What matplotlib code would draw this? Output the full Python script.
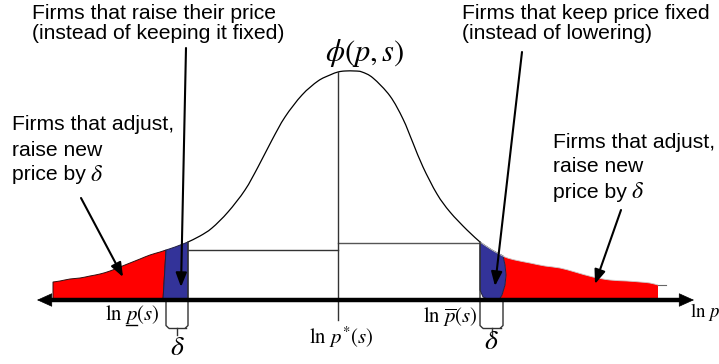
import numpy as np
import matplotlib.pyplot as plt
from matplotlib.path import Path
from matplotlib.patches import PathPatch

plt.rcParams['mathtext.fontset'] = 'stix'
plt.rcParams['font.family'] = ['Liberation Sans', 'DejaVu Sans']

# ---- data (positions along ln p, heights of phi) ----
lnp = [53, 60, 70, 80, 90, 100, 110, 120, 130, 140, 150, 160, 166, 175, 188, 200,
       212, 228, 245, 258, 272, 285, 302, 318, 330, 338, 345, 355, 362, 373, 390,
       403, 413, 423, 437, 450, 467, 480, 492, 505, 515, 530, 545, 560, 575, 593,
       610, 627, 640, 650, 658]
phi = [18, 19, 21, 22, 24, 26, 29, 33, 37, 41, 45, 48, 50, 53, 58, 64,
       72, 88, 110, 133, 160, 183, 205, 219, 225, 228, 229, 229, 228, 222, 204,
       181, 157, 133, 106, 88, 70, 58, 50, 43, 40, 37, 34, 32, 28, 23,
       20, 19, 18, 17, 15]

ln_p_lower = 188      # ln p_(s)
ln_p_star = 338       # ln p*(s)
ln_p_upper = 480      # ln p-bar(s)
delta = 22            # width delta
left_level = 50       # horizontal line, left side
right_level = 57      # horizontal line, right side

# right blue region's bulging right edge (x, height)
bulge_x = [503, 505, 506, 505, 502, 499]
bulge_h = [44, 35, 25, 15, 5, 0]

lnp = np.array(lnp, float)
phi = np.array(phi, float)

fig = plt.figure(figsize=(7.19, 3.64), dpi=100)
ax = fig.add_axes([0, 0, 1, 1])
ax.set_xlim(0, 719)
ax.set_ylim(-64, 300)
ax.axis('off')

RED = '#FF0000'
BLUE = '#333399'


def curve_between(a, b):
    m = (lnp > a + 1) & (lnp < b - 1)
    xs = np.concatenate([[a], lnp[m], [b]])
    ys = np.interp(xs, lnp, phi)
    return xs, ys


def smooth_segments(xs, ys):
    """Catmull-Rom through the points, returned as cubic Bezier vertices."""
    P = np.column_stack([xs, ys])
    n = len(P)
    verts = []
    for i in range(n - 1):
        p0 = P[i - 1] if i > 0 else P[i]
        p1, p2 = P[i], P[i + 1]
        p3 = P[i + 2] if i + 2 < n else P[i + 1]
        c1 = p1 + (p2 - p0) / 6.0
        c2 = p2 - (p3 - p1) / 6.0
        verts += [tuple(c1), tuple(c2), tuple(p2)]
    return verts


def region(pre, cxs, cys, post, **kw):
    verts = list(pre) + [(cxs[0], cys[0])]
    codes = [Path.MOVETO] + [Path.LINETO] * len(pre)
    sv = smooth_segments(cxs, cys)
    verts += sv
    codes += [Path.CURVE4] * len(sv)
    verts += list(post)
    codes += [Path.LINETO] * len(post)
    verts.append(verts[0])
    codes.append(Path.CLOSEPOLY)
    ax.add_patch(PathPatch(Path(verts, codes), **kw))


def smooth_line(cxs, cys, **kw):
    sv = smooth_segments(cxs, cys)
    verts = [(cxs[0], cys[0])] + sv
    codes = [Path.MOVETO] + [Path.CURVE4] * len(sv)
    ax.add_patch(PathPatch(Path(verts, codes), fc='none', **kw))


# left red region
x0 = lnp[0]
lo = ln_p_lower - delta
xs, ys = curve_between(x0, lo)
region([(x0, 0)], xs, ys, [(lo - 3, 0)], fc=RED, ec='#301010', lw=0.7, zorder=2)

# left blue region
xs, ys = curve_between(lo, ln_p_lower)
region([(lo - 3, 0)], xs, ys, [(ln_p_lower, 0)], fc=BLUE, ec='#202040', lw=0.7, zorder=2)

# right red region
x_end = lnp[-1]
xs, ys = curve_between(bulge_x[0], x_end)
region(list(zip(bulge_x[::-1], bulge_h[::-1]))[:-1], xs, ys, [(x_end, 0)],
       fc=RED, ec='none', zorder=2)

# right blue region
xs, ys = curve_between(ln_p_upper, bulge_x[0])
region([(ln_p_upper + 10, 0), (ln_p_upper + 3, 3), (ln_p_upper, 10)], xs, ys,
       list(zip(bulge_x, bulge_h))[1:], fc=BLUE, ec='#202040', lw=0.7, zorder=2)

# density curve
xs, ys = curve_between(ln_p_lower, ln_p_upper)
smooth_line(xs, ys, ec='black', lw=0.9, zorder=3)
xs, ys = curve_between(ln_p_upper, x_end)
smooth_line(xs, ys, ec='#cccccc', lw=0.6, zorder=3)
ax.plot([x_end, x_end + 8], [phi[-1], phi[-1]], color='#666666', lw=0.8, zorder=3)

# horizontal and vertical reference lines
ax.plot([ln_p_lower, ln_p_star], [left_level, left_level], color='#333333', lw=1.0, zorder=3)
ax.plot([ln_p_star, ln_p_upper], [right_level, right_level], color='#555555', lw=1.0, zorder=3)
ax.plot([ln_p_star, ln_p_star], [-20, phi.max() - 1], color='#333333', lw=1.0, zorder=3)


# brackets for delta
def bracket(a, b, top_a, top_b):
    y = -28
    r = 2.5
    ax.plot([a, a, a + r], [top_a, y + r, y], color='#333333', lw=1.0, zorder=3)
    ax.plot([b, b, b - r], [top_b, y + r, y], color='#333333', lw=1.0, zorder=3)
    ax.plot([a + r, b - r], [y, y], color='#333333', lw=1.0, zorder=3)
    c = (a + b) / 2
    ax.plot([c, c], [y, y - 7], color='#333333', lw=1.0, zorder=3)


bracket(lo, ln_p_lower, 0, np.interp(ln_p_lower, lnp, phi))
bracket(ln_p_upper, ln_p_upper + delta + 1, np.interp(ln_p_upper, lnp, phi), 0)

ax.text((lo + ln_p_lower) / 2, -48, r'$\delta$', fontsize=20, ha='center', va='center')
ax.text(ln_p_upper + (delta + 1) / 2, -42, r'$\delta$', fontsize=20, ha='center', va='center')

# horizontal axis with arrowheads
ax.plot([47, 684], [0, 0], color='black', lw=3.2, solid_capstyle='butt', zorder=4)
hstyle = '-|>,head_length=1.0,head_width=0.45'
ax.annotate('', xy=(694, 0), xytext=(680, 0),
            arrowprops=dict(arrowstyle=hstyle, color='black', lw=0.5,
                            shrinkA=0, shrinkB=0, mutation_scale=10), zorder=4)
ax.annotate('', xy=(37, 0), xytext=(51, 0),
            arrowprops=dict(arrowstyle=hstyle, color='black', lw=0.5,
                            shrinkA=0, shrinkB=0, mutation_scale=10), zorder=4)

# axis labels
mfs = 15
ax.text(160, -15, r'$\ln\,p\left(s\right)$', fontsize=mfs, ha='right', va='center')
ax.plot([126, 137], [-25, -25], color='black', lw=1.0, zorder=3)   # underline of p
ax.text(478, -17, r'$\ln\,\overline{p}\left(s\right)$', fontsize=mfs, ha='right', va='center')
ax.text(ln_p_star + 3, -37, r'$\ln\,p^{*}\left(s\right)$', fontsize=mfs, ha='center', va='center')
ax.text(690, -12, r'$\ln\,p$', fontsize=13.5, ha='left', va='center')
ax.text(365, 247, r'$\phi\left(p,s\right)$', fontsize=22, ha='center', va='center')

# annotations
fs = 15.2
ax.text(32, 276.5, 'Firms that raise their price\n(instead of keeping it fixed)',
        fontsize=fs, ha='left', va='center', linespacing=1.12)
ax.text(462, 276.5, 'Firms that keep price fixed\n(instead of lowering)',
        fontsize=fs, ha='left', va='center', linespacing=1.12)


def block(x, y_lines, lines):
    fig.canvas.draw()
    r = fig.canvas.get_renderer()
    for yy, line in zip(y_lines, lines):
        t = ax.text(x, yy, line, fontsize=fs, ha='left', va='center')
        if line.startswith('price by'):
            bb = t.get_window_extent(renderer=r)
            xr = ax.transData.inverted().transform((bb.x1, bb.y0))[0]
            ax.text(xr + 4, yy, r'$\delta$', fontsize=fs + 2, ha='left', va='center')


block(12, [175, 150, 125], ['Firms that adjust,', 'raise new', 'price by'])
block(553, [157, 133, 108], ['Firms that adjust,', 'raise new', 'price by'])

astyle = '-|>,head_length=0.85,head_width=0.33'


def arrow(start, tip):
    ax.annotate('', xy=tip, xytext=start,
                arrowprops=dict(arrowstyle=astyle, color='black', lw=1.5,
                                shrinkA=0, shrinkB=0, mutation_scale=10), zorder=5)


arrow((186, 252), (181, 13))
arrow((81, 102), (123, 23))
arrow((522, 248), (495, 14))
arrow((621, 90), (595, 16))

fig.savefig('out.png', dpi=100)
